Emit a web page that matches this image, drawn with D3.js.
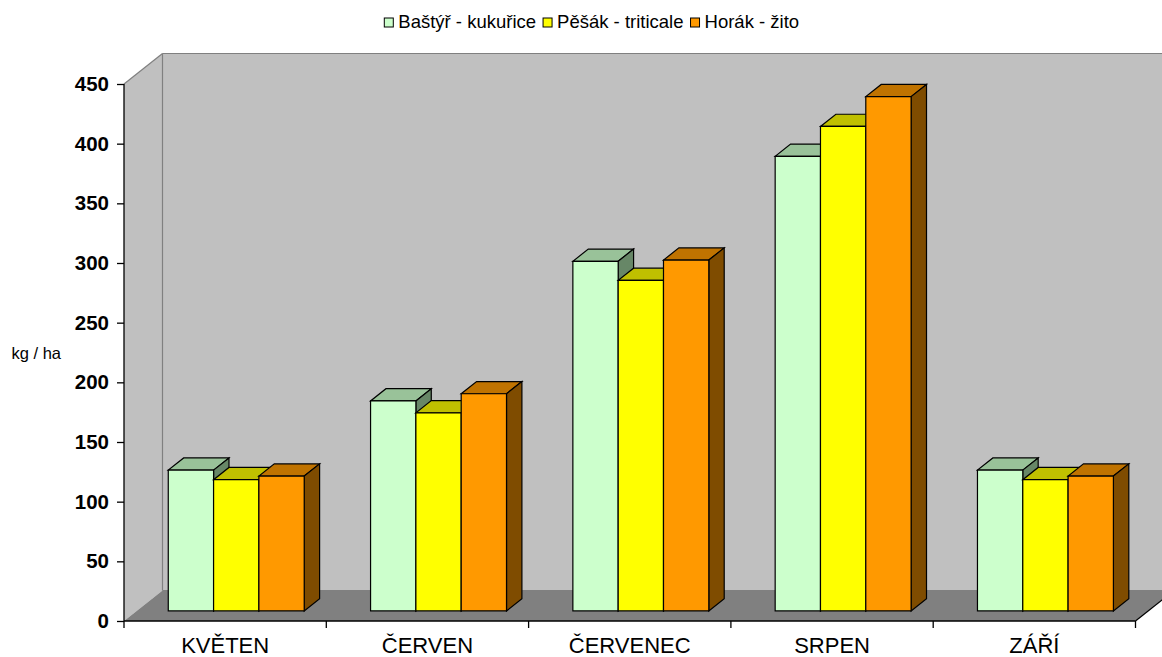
<!DOCTYPE html>
<html>
<head>
<meta charset="utf-8">
<script src="https://cdn.jsdelivr.net/npm/d3@7"></script>
<style>
  html, body { margin: 0; padding: 0; background: #ffffff; }
  svg { display: block; font-family: "Liberation Sans", Arial, Helvetica, sans-serif; }
</style>
</head>
<body>
<svg id="chart" width="1162" height="657"></svg>
<script>
// Monthly yields (kg / ha) per grower and crop
const months = ["KVĚTEN", "ČERVEN", "ČERVENEC", "SRPEN", "ZÁŘÍ"];
const seriesNames = ["Baštýř - kukuřice", "Pěšák - triticale", "Horák - žito"];
const bastyrKukurice = [118, 176, 293, 381, 118];
const pesakTriticale = [110, 166, 277, 406, 110];
const horakZito = [113, 182, 294, 431, 113];
const valueTicks = [0, 50, 100, 150, 200, 250, 300, 350, 400, 450];
const unitLabel = "kg / ha";

const seriesValues = [bastyrKukurice, pesakTriticale, horakZito];

// Face colours for each series: front, top, side
const palette = [
  { front: "#ccffcc", top: "#99c299", side: "#678767" },
  { front: "#ffff00", top: "#c0c000", side: "#808000" },
  { front: "#ff9900", top: "#c07300", side: "#7f4c00" }
];

const svg = d3.select("#chart");

// Front plane of the plot and the oblique depth projection
const plotLeft = 124, plotRight = 1135.5, plotBottom = 621, plotTop = 84;
const depthDX = 38.5, depthDY = 30.5;
const proj = (x, y, z) => [x + depthDX * z, y - depthDY * z];

const x = d3.scaleBand().domain(months).range([plotLeft, plotRight]).padding(0);
const y = d3.scaleLinear().domain([0, 450]).range([plotBottom, plotTop]);

const poly = pts => "M" + pts.map(p => p.join(",")).join("L") + "Z";

// Walls and floor
const y0 = y(0), yMax = y(450);
const wallRight = plotRight + 60;
svg.append("path") // side wall
  .attr("d", poly([proj(plotLeft, y0, 0), proj(plotLeft, y0, 1), proj(plotLeft, yMax, 1), proj(plotLeft, yMax, 0)]))
  .attr("fill", "#c0c0c0");
svg.append("path") // back wall
  .attr("d", poly([proj(plotLeft, y0, 1), proj(wallRight, y0, 1), proj(wallRight, yMax, 1), proj(plotLeft, yMax, 1)]))
  .attr("fill", "#c0c0c0");
svg.append("path") // floor
  .attr("d", poly([proj(plotLeft, y0, 0), proj(plotRight, y0, 0), proj(plotRight, y0, 1), proj(plotLeft, y0, 1)]))
  .attr("fill", "#808080");

// Wall edges
const edge = (a, b, color, w) => svg.append("line")
  .attr("x1", a[0]).attr("y1", a[1]).attr("x2", b[0]).attr("y2", b[1])
  .attr("stroke", color).attr("stroke-width", w);
edge(proj(plotLeft, yMax, 0), proj(plotLeft, yMax, 1), "#808080", 1.2);
edge(proj(plotLeft, yMax, 1), proj(wallRight, yMax, 1), "#808080", 1.2);
edge(proj(plotLeft, yMax, 1), proj(plotLeft, y0, 1), "#808080", 1.2);
edge(proj(plotLeft, y0, 1), proj(wallRight, y0, 1), "#808080", 1);

// Bars
const zFront = 0.33, zBack = 0.73;
const groupOffset = 0.156, barFrac = 0.224;
const bars = svg.append("g").attr("stroke", "#000").attr("stroke-width", 1.2).attr("stroke-linejoin", "miter");
months.forEach((m, i) => {
  seriesValues.forEach((vals, s) => {
    const xl = x(m) + x.bandwidth() * (groupOffset + barFrac * s);
    const xr = xl + x.bandwidth() * barFrac;
    const yt = y(vals[i]);
    const c = palette[s];
    // top face
    bars.append("path")
      .attr("d", poly([proj(xl, yt, zFront), proj(xr, yt, zFront), proj(xr, yt, zBack), proj(xl, yt, zBack)]))
      .attr("fill", c.top);
    // right side face
    bars.append("path")
      .attr("d", poly([proj(xr, yt, zFront), proj(xr, yt, zBack), proj(xr, y0, zBack), proj(xr, y0, zFront)]))
      .attr("fill", c.side);
    // front face
    bars.append("path")
      .attr("d", poly([proj(xl, yt, zFront), proj(xr, yt, zFront), proj(xr, y0, zFront), proj(xl, y0, zFront)]))
      .attr("fill", c.front);
  });
});

// Value axis
const yAxis = svg.append("g")
  .attr("transform", `translate(${plotLeft},0)`)
  .call(d3.axisLeft(y).tickValues(valueTicks).tickSize(7).tickPadding(8).tickFormat(d3.format("d")));
yAxis.select(".domain").attr("stroke", "#000").attr("stroke-width", 1.3).attr("d", `M0,${y0}V${yMax}`);
yAxis.selectAll(".tick line").attr("stroke", "#000").attr("stroke-width", 1.3);
yAxis.selectAll(".tick text")
  .attr("fill", "#000").attr("font-size", 20.5).attr("font-weight", "bold")
  .attr("font-family", "'Liberation Sans', Arial, sans-serif");

// Category axis along the front edge of the floor
const boundaries = months.map(m => x(m)).concat([plotRight]);
const xAxis = svg.append("g");
xAxis.append("line")
  .attr("x1", plotLeft).attr("x2", plotRight).attr("y1", y0).attr("y2", y0)
  .attr("stroke", "#000").attr("stroke-width", 1.3);
xAxis.selectAll("line.tick").data(boundaries).join("line")
  .attr("class", "tick")
  .attr("x1", d => d).attr("x2", d => d).attr("y1", y0).attr("y2", y0 + 7)
  .attr("stroke", "#000").attr("stroke-width", 1.3);
const fr = proj(plotRight, y0, 0), br = proj(plotRight, y0, 1);
edge(fr, br, "#000", 1.3);
xAxis.selectAll("text").data(months).join("text")
  .attr("x", d => x(d) + x.bandwidth() / 2)
  .attr("y", 653)
  .attr("text-anchor", "middle")
  .attr("font-size", 22)
  .attr("fill", "#000")
  .text(d => d);

// Unit label
svg.append("text")
  .attr("x", 11.5).attr("y", 359)
  .attr("font-size", 16.5)
  .attr("fill", "#000")
  .text(unitLabel);

// Legend
const legend = svg.append("g");
let cursor = 0;
const items = seriesNames.map((name, s) => {
  const g = legend.append("g");
  g.append("rect").attr("x", 0).attr("y", -9.5).attr("width", 9).attr("height", 9)
    .attr("fill", palette[s].front).attr("stroke", "#000").attr("stroke-width", 1);
  const t = g.append("text").attr("x", 14).attr("y", 0).attr("font-size", 18.5).attr("fill", "#000").text(name);
  const w = 14 + t.node().getComputedTextLength();
  g.attr("transform", `translate(${cursor},0)`);
  cursor += w + 7;
  return g;
});
const legendWidth = cursor - 7;
legend.attr("transform", `translate(${591.7 - legendWidth / 2},27.5)`);
</script>
</body>
</html>
